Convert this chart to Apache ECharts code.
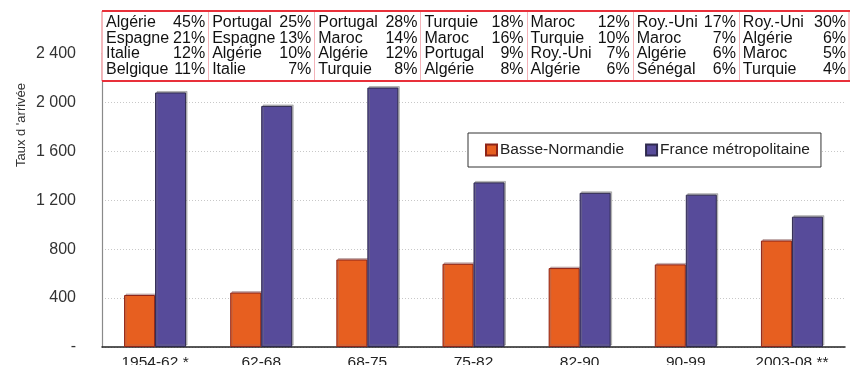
<!DOCTYPE html>
<html>
<head>
<meta charset="utf-8">
<script src="https://cdn.jsdelivr.net/npm/echarts@6/dist/echarts.min.js"></script>
<style>html,body{margin:0;padding:0;background:#fff}#c{width:855px;height:365px}</style>
</head>
<body>
<div id="c"></div>
<script>
const categories = ['1954-62 *', '62-68', '68-75', '75-82', '82-90', '90-99', '2003-08 **'];
const basseNormandie = [425, 445, 715, 680, 645, 675, 870];
const franceMetro = [2080, 1970, 2120, 1345, 1260, 1245, 1065];
const seriesNames = ['Basse-Normandie', 'France métropolitaine'];
const yAxisTitle = "Taux d 'arrivée";
const yMin = 0, yMax = 2400, yStep = 400;
const tableCountries = [
  ['Algérie', 'Espagne', 'Italie', 'Belgique'],
  ['Portugal', 'Espagne', 'Algérie', 'Italie'],
  ['Portugal', 'Maroc', 'Algérie', 'Turquie'],
  ['Turquie', 'Maroc', 'Portugal', 'Algérie'],
  ['Maroc', 'Turquie', 'Roy.-Uni', 'Algérie'],
  ['Roy.-Uni', 'Maroc', 'Algérie', 'Sénégal'],
  ['Roy.-Uni', 'Algérie', 'Maroc', 'Turquie']
];
const tableShares = [
  [45, 21, 12, 11],
  [25, 13, 10, 7],
  [28, 14, 12, 8],
  [18, 16, 9, 8],
  [12, 10, 7, 6],
  [17, 7, 6, 6],
  [30, 6, 5, 4]
];

const FONT = '"Liberation Sans", Arial, sans-serif';
const chart = echarts.init(document.getElementById('c'), null, {renderer: 'canvas'});

function fmt(v) {
  if (v === 0) return '-';
  return String(v).replace(/\B(?=(\d{3})+(?!\d))/g, ' ');
}

const option = {
  animation: false,
  backgroundColor: '#fff',
  textStyle: {fontFamily: FONT},
  grid: {left: 102, right: 10, top: 53.3, bottom: 18, containLabel: false, outerBoundsMode: 'none'},
  legend: {
    left: 468, top: 133,
    padding: [9, 11, 9, 17],
    borderColor: '#333', borderWidth: 1,
    backgroundColor: '#fff',
    itemWidth: 11, itemHeight: 11, itemGap: 21,
    icon: 'rect',
    textStyle: {fontSize: 15.5, color: '#222', fontFamily: FONT, padding: [0, 0, 0, -2]},
    data: seriesNames,
    z: 20
  },
  xAxis: {
    type: 'category',
    data: categories,
    axisLine: {lineStyle: {color: '#222', width: 1.5}},
    axisTick: {show: false},
    axisLabel: {color: '#222', fontSize: 15.5, margin: 8, fontFamily: FONT, interval: 0}
  },
  yAxis: {
    type: 'value',
    min: yMin, max: yMax, interval: yStep,
    axisLine: {show: true, lineStyle: {color: '#8a8a8a', width: 1.2}},
    axisTick: {show: false},
    axisLabel: {color: '#333', fontSize: 16, margin: 26, fontFamily: FONT, formatter: fmt},
    splitLine: {lineStyle: {color: '#c8c8c8', type: [1, 2], width: 1}}
  },
  series: [
    {
      name: seriesNames[0], type: 'bar', data: basseNormandie,
      barWidth: 31, barGap: '0%',
      itemStyle: {color: '#E75F20', borderColor: '#8e2418', borderWidth: 1,
        shadowColor: 'rgba(150,110,110,0.45)', shadowOffsetX: 1.5, shadowOffsetY: -1.5}
    },
    {
      name: seriesNames[1], type: 'bar', data: franceMetro,
      barWidth: 31, barGap: '0%',
      itemStyle: {color: '#574B9A', borderColor: '#2f2a4e', borderWidth: 1,
        shadowColor: 'rgba(120,120,120,0.45)', shadowOffsetX: 1.5, shadowOffsetY: -1.5}
    }
  ]
};
chart.setOption(option);

// Build the header table aligned to the category bands
const c0 = chart.convertToPixel({xAxisIndex: 0}, 0);
const c1 = chart.convertToPixel({xAxisIndex: 0}, 1);
const band = c1 - c0;
const left0 = c0 - band / 2;
const n = categories.length;
const tableTop = 11, tableBottom = 81;
const tableRight = left0 + band * n + 4;
const rowY0 = 22.8, rowStep = 15.5;

const g = [];
g.push({type: 'rect', z: 10, shape: {x: left0, y: tableTop, width: tableRight - left0, height: tableBottom - tableTop}, style: {fill: '#fff'}});
for (let i = 1; i < n; i++) {
  const x = Math.round(left0 + band * i) + 0.5;
  g.push({type: 'line', z: 11, shape: {x1: x, y1: tableTop, x2: x, y2: tableBottom}, style: {stroke: '#f4b3b9', lineWidth: 1}});
}
g.push({type: 'line', z: 11, shape: {x1: left0, y1: tableTop, x2: left0, y2: tableBottom}, style: {stroke: '#e9737b', lineWidth: 1}});
g.push({type: 'line', z: 11, shape: {x1: tableRight, y1: tableTop, x2: tableRight, y2: tableBottom}, style: {stroke: '#f09aa1', lineWidth: 1}});
g.push({type: 'line', z: 12, shape: {x1: left0, y1: tableTop, x2: tableRight + 1, y2: tableTop}, style: {stroke: '#e8303a', lineWidth: 2}});
g.push({type: 'line', z: 12, shape: {x1: left0, y1: tableBottom, x2: tableRight + 1, y2: tableBottom}, style: {stroke: '#e8303a', lineWidth: 2}});
for (let i = 0; i < n; i++) {
  const lx = left0 + band * i;
  const rx = (i === n - 1) ? tableRight : left0 + band * (i + 1);
  for (let r = 0; r < 4; r++) {
    const y = rowY0 + rowStep * r;
    g.push({type: 'text', z: 13, style: {text: tableCountries[i][r], x: lx + 4, y: y, font: '16px ' + FONT, fill: '#111', textAlign: 'left', textVerticalAlign: 'middle'}});
    g.push({type: 'text', z: 13, style: {text: tableShares[i][r] + '%', x: rx - 3, y: y, font: '16px ' + FONT, fill: '#111', textAlign: 'right', textVerticalAlign: 'middle'}});
  }
}
g.push({type: 'text', z: 13, x: 21, y: 125, rotation: Math.PI / 2, style: {text: yAxisTitle, x: 0, y: 0, font: '13px ' + FONT, fill: '#333', textAlign: 'center', textVerticalAlign: 'middle'}});

chart.setOption({graphic: g});
</script>
</body>
</html>
